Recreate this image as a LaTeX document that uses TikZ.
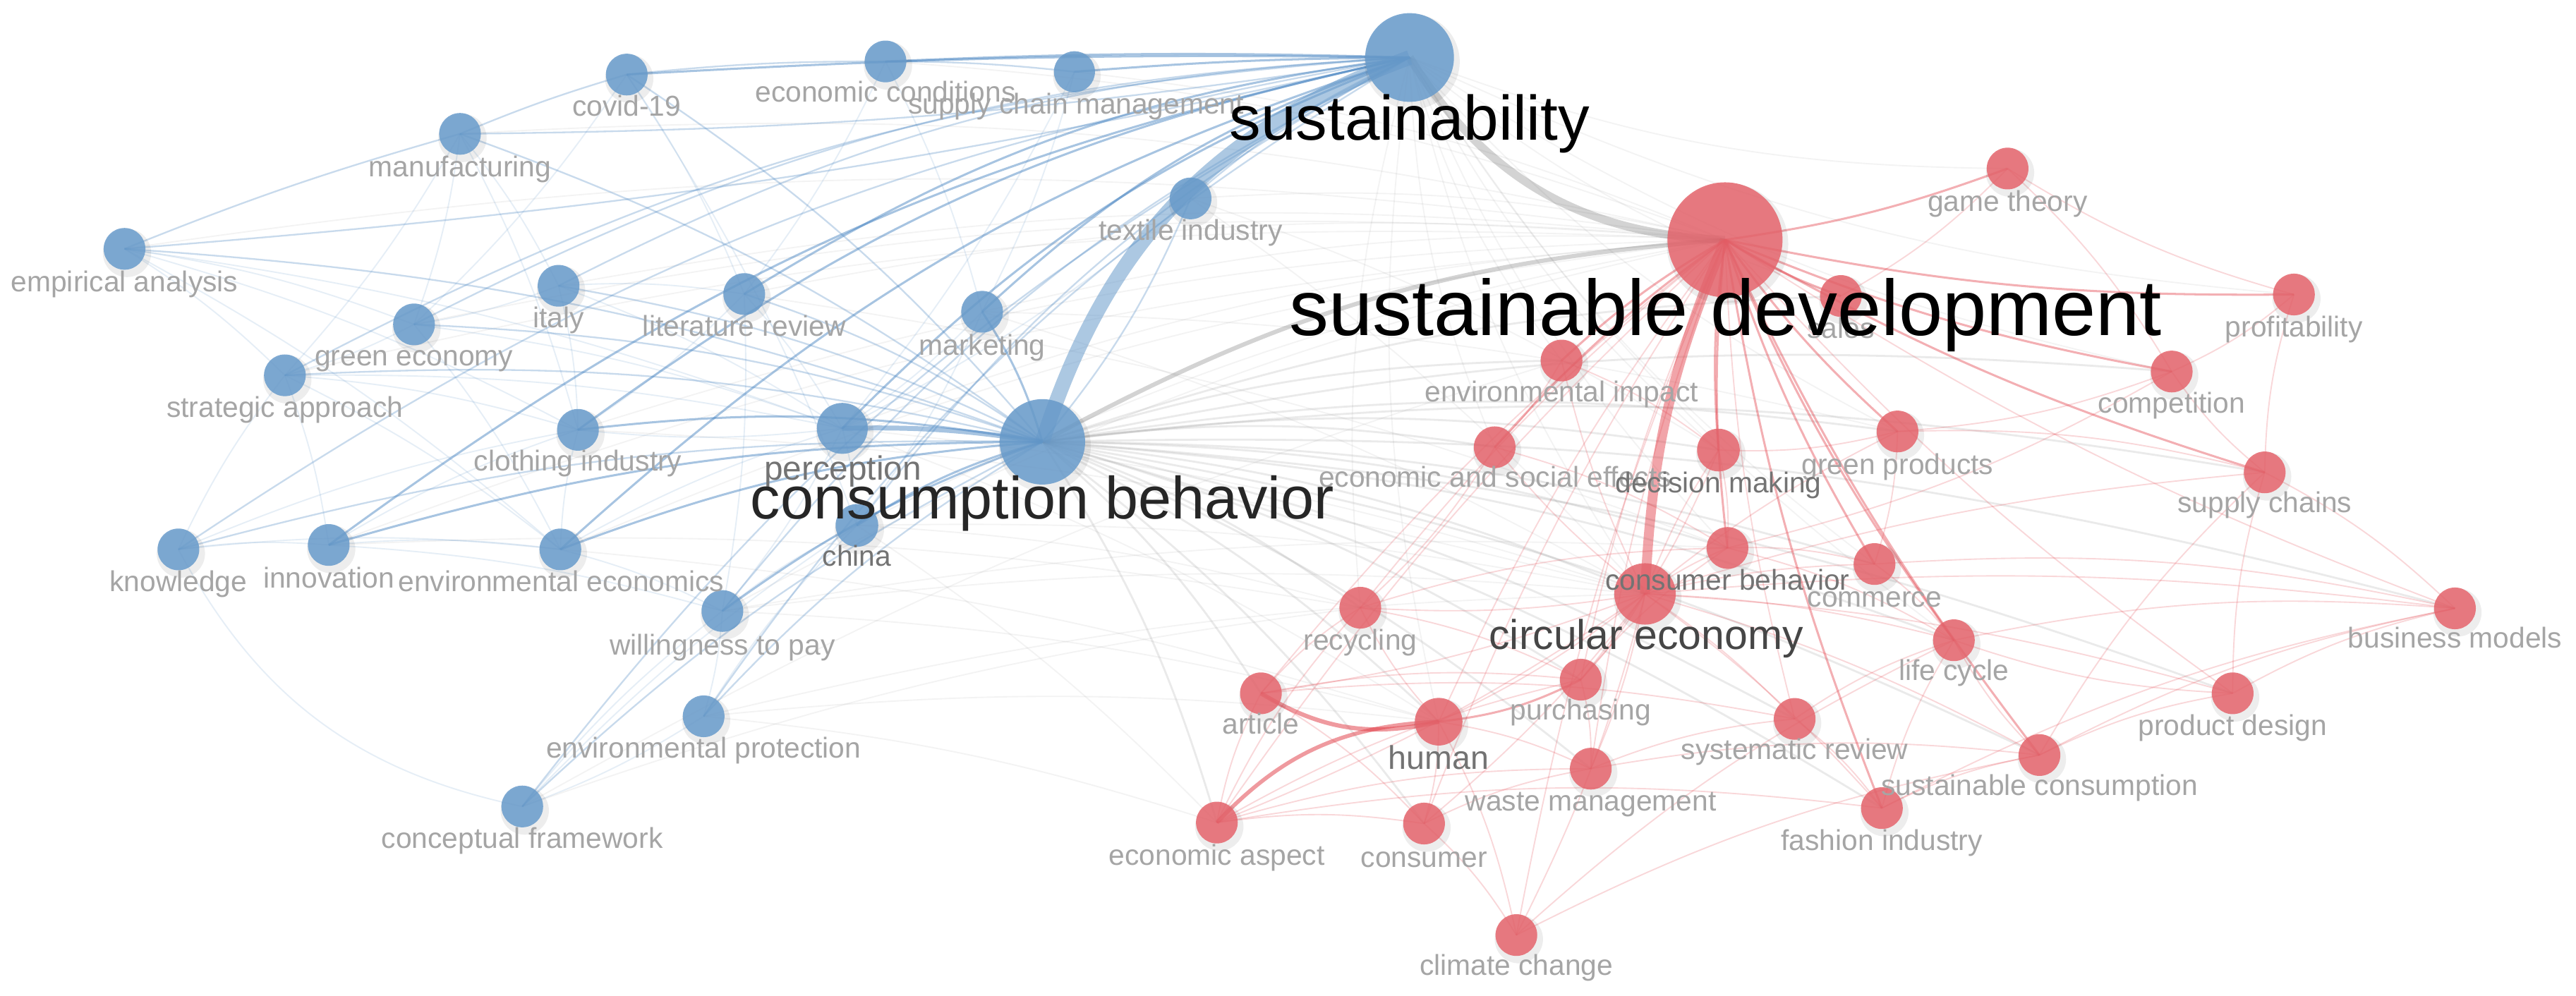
\documentclass[tikz,border=0pt]{standalone}
\usepackage{fontspec}
\setmainfont{Liberation Sans}
\definecolor{nblue}{RGB}{104,155,203}
\definecolor{nred}{RGB}{229,100,108}
\definecolor{eblue}{RGB}{60,125,190}
\definecolor{ered}{RGB}{225,55,65}
\definecolor{egray}{RGB}{110,110,110}
\definecolor{lt}{RGB}{165,165,165}
\definecolor{md}{RGB}{115,115,115}
\definecolor{dk}{RGB}{70,70,70}
\newcommand\kwn[5]{\fill[black,opacity=0.07] (#2+1.5,#3+2.5) circle ({#4+2});
  \node[#5, minimum size={2*#4}] (#1) at (#2,#3) {};}
\newcommand\kwl[5]{\node[lab, #4] (#1-l) at (#2,#3) {#5};}
\begin{document}
\begin{tikzpicture}[x=1pt,y=-1pt,
  bn/.style={circle, fill=nblue, fill opacity=0.85, inner sep=0pt, draw=none},
  rn/.style={circle, fill=nred, fill opacity=0.85, inner sep=0pt, draw=none},
  lab/.style={anchor=mid, inner sep=0pt, text=lt, yshift=-3.2pt, font=\fontsize{17.5}{20}\selectfont},
  mdl/.style={text=md},
  bs/.style={draw=eblue, line width=1.3, opacity=0.45},
  bm/.style={draw=eblue, line width=1, opacity=0.28},
  bw/.style={draw=eblue, line width=0.8, opacity=0.13},
  gs/.style={draw=egray, line width=1.2, opacity=0.14},
  gw/.style={draw=egray, line width=0.8, opacity=0.08},
  rs/.style={draw=ered, line width=1.3, opacity=0.4},
  rw/.style={draw=ered, line width=0.8, opacity=0.2}]
\useasboundingbox (0,0) rectangle (1568,606);
\fill[white] (0,0) rectangle (1568,606);
% ---- coordinates of nodes (drawn later) ----
\path
 (858,35) coordinate (sus) (634.5,269) coordinate (cb) (381.5,45.4) coordinate (cov)
 (539,37.4) coordinate (ecc) (654,43.7) coordinate (scm) (280,81.5) coordinate (man)
 (75.8,151.5) coordinate (emp) (340,174) coordinate (ita) (453,179) coordinate (lit)
 (597.8,189.8) coordinate (mkt) (252,197.5) coordinate (gre) (173.4,228.5) coordinate (str)
 (724.7,120.8) coordinate (tex) (351.8,261.7) coordinate (clo) (512.7,260.8) coordinate (per)
 (521.6,319.9) coordinate (chi) (108.6,334.5) coordinate (kno) (200.1,331.8) coordinate (inn)
 (341.1,334.5) coordinate (enve) (439.7,372) coordinate (wil) (428.3,436.1) coordinate (envp)
 (317.9,491) coordinate (con)
 (1050,146) coordinate (sd) (1001.3,361.6) coordinate (ce) (1222,102.6) coordinate (gam)
 (1396.3,179.3) coordinate (pro) (1321.9,226.2) coordinate (com) (1120.5,180.2) coordinate (sal)
 (1155,262.7) coordinate (grp) (1046,274) coordinate (dec) (1378.5,287.6) coordinate (sup)
 (950.5,219.5) coordinate (envi) (909.8,272.3) coordinate (eas) (1051.5,333.6) coordinate (cbh)
 (1141,343.4) coordinate (cmm) (828,370) coordinate (rec) (1189.3,389.8) coordinate (lif)
 (1494.3,370.4) coordinate (bus) (767.5,422.1) coordinate (art) (875.7,439.4) coordinate (hum)
 (962.2,413.8) coordinate (pur) (1092.4,437.7) coordinate (sys) (1359,422.1) coordinate (pdd)
 (968.3,468) coordinate (was) (1241.4,459.7) coordinate (scn) (740.7,500.8) coordinate (eca)
 (866.8,501.4) coordinate (cns) (1145.5,492) coordinate (fas) (923,569.3) coordinate (cli);
% ---- gray inter-cluster edges ----
\foreach \a in {ce,cbh,dec,eas,rec,hum,art,envi,sal,grp,cmm,lif,pur,sys,scn,was,eca,cns,pdd,bus,fas,sup,com}
  \draw[gs] (cb) to[bend left=8] (\a);
\foreach \a in {ce,dec,envi,eas,grp,gam,pro,com,cbh,sal,rec,hum,cmm,lif}
  \draw[gw] (sus) to[bend right=10] (\a);
\foreach \a in {per,mkt,tex,lit,ita,clo,enve,inn,wil,chi,gre,emp,str,man,scm,ecc}
  \draw[gw] (\a) to[bend left=8] (sd);
\foreach \a/\b in {wil/cbh,wil/ce,envp/hum,envp/ce,con/envi,chi/ce,chi/rec,per/ce,per/hum,clo/ce,lit/cbh,mkt/ce,tex/ce,inn/rec,enve/hum,con/rec,wil/hum,chi/eca,envp/eca,tex/dec,mkt/grp}
  \draw[gw] (\a) to[bend left=6] (\b);
\draw[draw=egray, line width=5, opacity=0.3] (sus) to[bend right=28] (sd);
\draw[draw=egray, line width=2.6, opacity=0.3] (cb) to[bend left=12] (sd);
% ---- blue edges ----
\foreach \a in {cov,ecc,scm}
  \draw[bs] (\a) to[bend left=2] (sus);
\foreach \a in {inn,clo,enve,per,lit,mkt}
  \draw[bs] (\a) to[bend left=12] (sus);
\foreach \a in {man,emp}
  \draw[bm] (\a) to[bend right=4] (sus);
\foreach \a in {gre,ita,str,chi,wil,kno,envp,con}
  \draw[bm] (\a) to[bend left=12] (sus);
\draw[bm] (tex) to[bend left=8] (sus);
\draw[draw=nblue, line width=9, opacity=0.55] (cb) to[bend left=26] (sus);
\draw[draw=eblue, line width=3, opacity=0.45] (per) to[bend left=5] (cb);
\foreach \a in {clo,enve,inn,mkt,chi,wil}
  \draw[bs] (\a) to[bend left=8] (cb);
\foreach \a in {str,gre,lit,ita,emp,kno,envp,con,man,cov,tex}
  \draw[bm] (\a) to[bend left=8] (cb);
\foreach \a/\b in {emp/man,cov/ecc,ecc/scm,man/cov}
  \draw[bm] (\a) to[bend left=3] (\b);
\foreach \a/\b in {emp/gre,emp/str,emp/clo,emp/per,man/gre,man/str,man/clo,cov/lit,cov/chi,ita/lit,ita/gre,ita/clo,gre/str,gre/enve,str/clo,str/inn,kno/inn,kno/enve,kno/str,inn/enve,inn/wil,enve/wil,enve/clo,enve/per,wil/envp,wil/chi,envp/con,con/wil,con/chi,lit/per,lit/clo,mkt/per,mkt/chi,per/chi,per/clo,per/wil,tex/per,ecc/lit,scm/per,str/per,gre/per,ita/per,man/ita,cov/gre,envp/chi,str/enve,inn/clo,kno/clo,emp/enve,lit/wil,ecc/mkt,scm/mkt}
  \draw[bw] (\a) to[bend left=6] (\b);
\draw[bw] (kno) to[bend right=25] (con);
% ---- red edges ----
\foreach \a in {gam,pro,com,sal,grp,dec,sup,fas,scn,envi,eas,cbh,cmm,lif}
  \draw[rs] (\a) to[bend left=6] (sd);
\foreach \a in {rec,bus,art,hum,pur,sys,pdd,was,eca,cns,cli}
  \draw[rw] (\a) to[bend left=6] (sd);
\draw[draw=ered, line width=6, opacity=0.45] (ce) to[bend left=10] (sd);
\foreach \a in {cbh,cmm,rec,lif,bus,art,hum,pur,sys,pdd,was,scn,eca,cns,fas,cli,dec,envi,eas,grp,sup}
  \draw[rw] (\a) to[bend right=6] (ce);
\draw[draw=ered, line width=2.6, opacity=0.5] (art) to[bend right=22] (hum);
\draw[draw=ered, line width=2.4, opacity=0.5] (eca) to[bend left=22] (hum);
\draw[rs] (hum) to[bend right=10] (pur);
\foreach \a/\b in {hum/was,hum/cns,hum/rec,hum/cli,eca/art,eca/cns,eca/rec,eca/pur,eca/was,art/rec,art/cns,art/pur,cns/was,cns/cli,cli/scn,cli/lif,pur/was,pur/cbh,was/sys,was/scn,sys/fas,sys/lif,fas/scn,fas/lif,fas/bus,scn/pdd,scn/bus,scn/lif,scn/sup,pdd/bus,pdd/sup,pdd/lif,sup/bus,sup/com,sup/pro,pro/com,pro/gam,gam/com,com/grp,com/cbh,grp/dec,grp/cmm,dec/cbh,cbh/cmm,cmm/lif,envi/eas,envi/dec,eas/rec,eas/cbh,rec/pur,lif/bus,cmm/bus,grp/sup,gam/sal,eca/fas,art/sys,rec/cbh,cbh/lif,dec/pur}
  \draw[rw] (\a) to[bend left=8] (\b);
% ---- nodes ----
\kwn{sus-n}{858}{35}{27}{bn}
\kwn{cb-n}{634.5}{269}{26}{bn}
\kwn{cov-n}{381.5}{45.4}{12.7}{bn}
\kwn{ecc-n}{539}{37.4}{12.7}{bn}
\kwn{scm-n}{654}{43.7}{12.5}{bn}
\kwn{man-n}{280}{81.5}{12.7}{bn}
\kwn{emp-n}{75.8}{151.5}{12.7}{bn}
\kwn{ita-n}{340}{174}{12.7}{bn}
\kwn{lit-n}{453}{179}{12.7}{bn}
\kwn{mkt-n}{597.8}{189.8}{12.7}{bn}
\kwn{gre-n}{252}{197.5}{12.7}{bn}
\kwn{str-n}{173.4}{228.5}{12.7}{bn}
\kwn{tex-n}{724.7}{120.8}{12.7}{bn}
\kwn{clo-n}{351.8}{261.7}{12.7}{bn}
\kwn{per-n}{512.7}{260.8}{15.5}{bn}
\kwn{chi-n}{521.6}{319.9}{13}{bn}
\kwn{kno-n}{108.6}{334.5}{12.7}{bn}
\kwn{inn-n}{200.1}{331.8}{12.7}{bn}
\kwn{enve-n}{341.1}{334.5}{12.7}{bn}
\kwn{wil-n}{439.7}{372}{12.7}{bn}
\kwn{envp-n}{428.3}{436.1}{12.7}{bn}
\kwn{con-n}{317.9}{491}{12.7}{bn}
\kwn{sd-n}{1050}{146}{35}{rn}
\kwn{ce-n}{1001.3}{361.6}{18.7}{rn}
\kwn{gam-n}{1222}{102.6}{12.7}{rn}
\kwn{pro-n}{1396.3}{179.3}{12.7}{rn}
\kwn{com-n}{1321.9}{226.2}{12.7}{rn}
\kwn{sal-n}{1120.5}{180.2}{12.7}{rn}
\kwn{grp-n}{1155}{262.7}{12.7}{rn}
\kwn{dec-n}{1046}{274}{13}{rn}
\kwn{sup-n}{1378.5}{287.6}{12.7}{rn}
\kwn{envi-n}{950.5}{219.5}{12.7}{rn}
\kwn{eas-n}{909.8}{272.3}{12.7}{rn}
\kwn{cbh-n}{1051.5}{333.6}{12.7}{rn}
\kwn{cmm-n}{1141}{343.4}{12.7}{rn}
\kwn{rec-n}{828}{370}{12.7}{rn}
\kwn{lif-n}{1189.3}{389.8}{12.7}{rn}
\kwn{bus-n}{1494.3}{370.4}{12.7}{rn}
\kwn{art-n}{767.5}{422.1}{12.7}{rn}
\kwn{hum-n}{875.7}{439.4}{14.5}{rn}
\kwn{pur-n}{962.2}{413.8}{12.7}{rn}
\kwn{sys-n}{1092.4}{437.7}{12.7}{rn}
\kwn{pdd-n}{1359}{422.1}{12.7}{rn}
\kwn{was-n}{968.3}{468}{12.7}{rn}
\kwn{scn-n}{1241.4}{459.7}{12.7}{rn}
\kwn{eca-n}{740.7}{500.8}{12.7}{rn}
\kwn{cns-n}{866.8}{501.4}{12.7}{rn}
\kwn{fas-n}{1145.5}{492}{12.7}{rn}
\kwn{cli-n}{923}{569.3}{12.7}{rn}
% ---- labels ----
\kwl{cov}{381.5}{65}{}{covid-19}
\kwl{ecc}{539}{56.4}{}{economic conditions}
\kwl{scm}{655}{63.5}{}{supply chain management}
\kwl{man}{280}{101.6}{}{manufacturing}
\kwl{emp}{75.8}{171.6}{}{empirical analysis}
\kwl{ita}{340}{193.6}{}{italy}
\kwl{lit}{453}{199}{}{literature review}
\kwl{mkt}{597.8}{210.5}{}{marketing}
\kwl{gre}{252}{216.7}{}{green economy}
\kwl{str}{173.4}{248}{}{strategic approach}
\kwl{tex}{724.7}{140.5}{}{textile industry}
\kwl{clo}{351.8}{281}{}{clothing industry}
\kwl{per}{513}{285.7}{mdl,yshift=-0.8pt,font=\fontsize{20.5}{22}\selectfont}{perception}
\kwl{chi}{521.6}{338.6}{mdl}{china}
\kwl{kno}{108.6}{354.3}{}{knowledge}
\kwl{inn}{200.1}{352.2}{}{innovation}
\kwl{enve}{341.6}{354.3}{}{environmental economics}
\kwl{wil}{439.7}{392.9}{}{willingness to pay}
\kwl{envp}{428.3}{455.5}{}{environmental protection}
\kwl{con}{317.9}{510.8}{}{conceptual framework}
\kwl{gam}{1222}{122.7}{}{game theory}
\kwl{pro}{1396.3}{199.4}{}{profitability}
\kwl{com}{1321.9}{245.4}{}{competition}
\kwl{sal}{1120.5}{200}{}{sales}
\kwl{grp}{1155}{282.8}{}{green products}
\kwl{sup}{1378.5}{306.3}{}{supply chains}
\kwl{envi}{950.5}{238.8}{}{environmental impact}
\kwl{eas}{910}{290.6}{}{economic and social effects}
\kwl{dec}{1046}{294}{mdl}{decision making}
\kwl{cbh}{1051.5}{353.2}{mdl}{consumer behavior}
\kwl{cmm}{1141}{363.7}{}{commerce}
\kwl{rec}{828}{389.8}{}{recycling}
\kwl{lif}{1189.3}{408.5}{}{life cycle}
\kwl{bus}{1494.3}{388.7}{}{business models}
\kwl{art}{767.5}{440.9}{}{article}
\kwl{hum}{875.7}{461.8}{mdl,yshift=-0.6pt,font=\fontsize{20}{22}\selectfont}{human}
\kwl{pur}{962.2}{432.6}{}{purchasing}
\kwl{sys}{1092.4}{456.5}{}{systematic review}
\kwl{pdd}{1359}{442}{}{product design}
\kwl{was}{968.3}{487.9}{}{waste management}
\kwl{scn}{1241.4}{478.5}{}{sustainable consumption}
\kwl{eca}{740.7}{521}{}{economic aspect}
\kwl{cns}{866.8}{522.3}{}{consumer}
\kwl{fas}{1145.5}{511.9}{}{fashion industry}
\kwl{cli}{923}{588}{}{climate change}
\kwl{ce}{1002}{388}{text=dk,yshift=-1.5pt,font=\fontsize{25.3}{28}\selectfont}{circular economy}
\kwl{cb}{634.5}{306.5}{text={black!85},yshift=-3.5pt,font=\fontsize{36.3}{40}\selectfont}{consumption behavior}
\kwl{sus}{858}{75.5}{text=black,yshift=-4pt,font=\fontsize{38.3}{42}\selectfont}{sustainability}
\kwl{sd}{1050.5}{193.5}{text=black,yshift=-5pt,font=\fontsize{48}{52}\selectfont}{sustainable development}
\end{tikzpicture}
\end{document}
